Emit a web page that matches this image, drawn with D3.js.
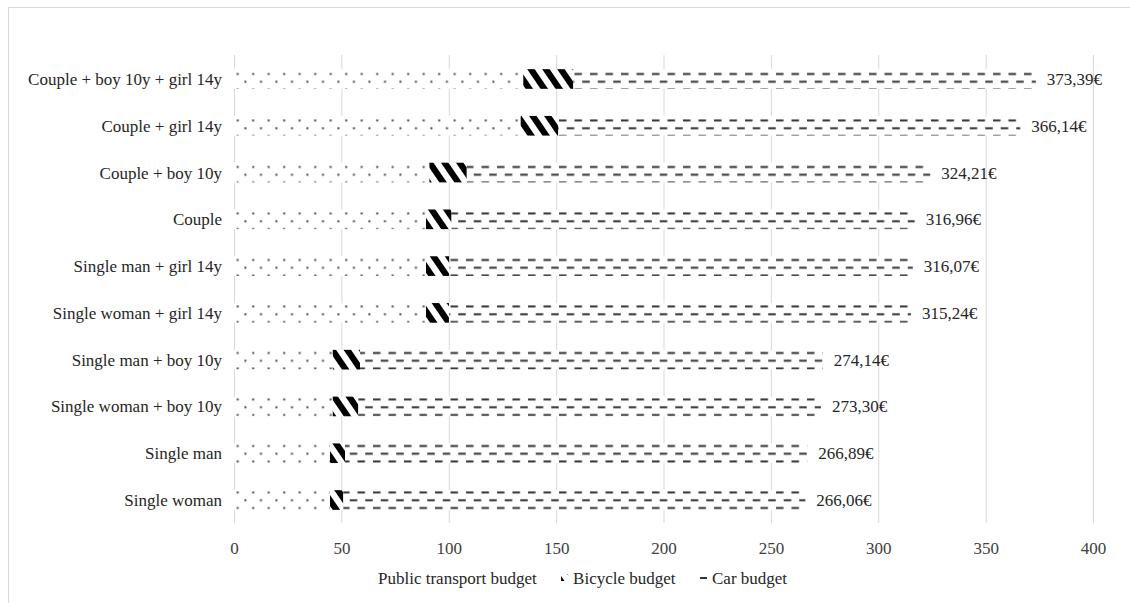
<!DOCTYPE html>
<html>
<head>
<meta charset="utf-8">
<script src="https://cdn.jsdelivr.net/npm/d3@7/dist/d3.min.js"></script>
<style>
  html, body { margin: 0; padding: 0; background: #fff; }
  svg text { font-family: "Liberation Serif", "Times New Roman", serif; }
</style>
</head>
<body>
<svg id="chart" width="1130" height="603"></svg>
<script>
// Household types, listed from top to bottom
const categories = [
  "Couple + boy 10y + girl 14y",
  "Couple + girl 14y",
  "Couple + boy 10y",
  "Couple",
  "Single man + girl 14y",
  "Single woman + girl 14y",
  "Single man + boy 10y",
  "Single woman + boy 10y",
  "Single man",
  "Single woman"
];
// Monthly budgets per mode (€)
const publicTransport = [134.70, 133.50, 91.00, 89.40, 89.40, 89.40, 46.00, 46.00, 44.70, 44.70];
const bicycle         = [23.30, 17.50, 17.40, 11.90, 10.90, 10.70, 12.70, 11.90, 7.00, 6.20];
const car             = [215.39, 215.14, 215.81, 215.66, 215.77, 215.14, 215.44, 215.40, 215.19, 215.16];
const seriesNames = ["Public transport budget", "Bicycle budget", "Car budget"];
const xTicks = [0, 50, 100, 150, 200, 250, 300, 350, 400];

const FONT = 17;
const svg = d3.select("#chart");
const defs = svg.append("defs");

// Dotted fill: staggered dots
const pDots = defs.append("pattern").attr("id", "pt-dots")
  .attr("patternUnits", "userSpaceOnUse").attr("width", 15.5).attr("height", 15.5);
pDots.append("rect").attr("width", 15.5).attr("height", 15.5).attr("fill", "#fff");
[[5.2, 12], [12.95, 4.25]].forEach(([x, y]) =>
  pDots.append("rect").attr("x", x - 1).attr("y", y - 1).attr("width", 2).attr("height", 2).attr("fill", "#4a4a4a"));

// Diagonal stripes for bicycles
const sw = 15, sh = 22, sb = 7.5;
const pStripe = defs.append("pattern").attr("id", "bike-stripes")
  .attr("patternUnits", "userSpaceOnUse").attr("width", sw).attr("height", sh);
pStripe.append("rect").attr("width", sw).attr("height", sh).attr("fill", "#fff");
[0, -sw].forEach(o =>
  pStripe.append("polygon")
    .attr("points", `${o},0 ${o + sb},0 ${o + sb + sw},${sh} ${o + sw},${sh}`)
    .attr("fill", "#000"));

// Dashed fill for cars
const pDash = defs.append("pattern").attr("id", "car-dashes")
  .attr("patternUnits", "userSpaceOnUse").attr("width", 15.5).attr("height", 15.5);
pDash.append("rect").attr("width", 15.5).attr("height", 15.5).attr("fill", "#fff");
[[1, 12], [8.75, 4.25], [8.75 - 15.5, 4.25]].forEach(([x, y]) =>
  pDash.append("rect").attr("x", x).attr("y", y - 1).attr("width", 7.5).attr("height", 2).attr("fill", "#333"));

const fills = ["url(#pt-dots)", "url(#bike-stripes)", "url(#car-dashes)"];

// Chart area border
svg.append("rect").attr("x", 8.5).attr("y", 7.5).attr("width", 1130).attr("height", 600)
  .attr("fill", "none").attr("stroke", "#d9d9d9");

const x = d3.scaleLinear().domain([0, 400]).range([234, 1093]);
const y = d3.scaleBand().domain(categories).range([55.6, 523.4]).paddingInner(0.58).paddingOuter(0.29);

// Vertical gridlines
svg.append("g").selectAll("line").data(xTicks).join("line")
  .attr("x1", d => x(d) + 0.5).attr("x2", d => x(d) + 0.5)
  .attr("y1", 55).attr("y2", 523)
  .attr("stroke", "#d9d9d9").attr("stroke-width", 1);

// Stacked bars
const rows = categories.map((c, i) => ({ cat: c, vals: [publicTransport[i], bicycle[i], car[i]] }));
const stack = d3.stack().keys([0, 1, 2]).value((d, k) => d.vals[k]);
const layers = stack(rows);
layers.forEach((layer, k) => {
  svg.append("g").selectAll("rect").data(layer).join("rect")
    .attr("x", d => x(d[0]))
    .attr("width", d => x(d[1]) - x(d[0]))
    .attr("y", d => y(d.data.cat))
    .attr("height", y.bandwidth())
    .attr("fill", fills[k]);
});

// Total labels
const fmt = v => d3.format(".2f")(v).replace(".", ",") + "€";
svg.append("g").selectAll("text").data(rows).join("text")
  .attr("x", d => x(d3.sum(d.vals)) + 11)
  .attr("y", d => y(d.cat) + y.bandwidth() / 2)
  .attr("dy", "0.35em")
  .attr("font-size", FONT).attr("fill", "#262626")
  .text(d => fmt(d3.sum(d.vals)));

// Category axis labels
svg.append("g").selectAll("text").data(categories).join("text")
  .attr("x", 222).attr("y", d => y(d) + y.bandwidth() / 2)
  .attr("dy", "0.35em").attr("text-anchor", "end")
  .attr("font-size", FONT).attr("fill", "#262626")
  .text(d => d);

// Value axis
const xAxis = d3.axisBottom(x).tickValues(xTicks).tickSize(0).tickPadding(0).tickFormat(d3.format("d"));
const gx = svg.append("g").attr("transform", "translate(0,542)").call(xAxis);
gx.select(".domain").remove();
gx.selectAll("text").attr("font-size", FONT).attr("fill", "#404040")
  .attr("font-family", "Liberation Serif, Times New Roman, serif");

// Legend: swatch + label per series, evenly spaced between fixed ends
const legend = svg.append("g").attr("transform", "translate(0,578)");
const sws = 7, swGap = 5;
const labels = seriesNames.map(n => legend.append("text").attr("y", 0).attr("dy", "0.35em")
  .attr("font-size", FONT).attr("fill", "#262626").text(n));
const widths = labels.map(t => t.node().getComputedTextLength());
const startX = 366, carSwatchX = 700;
const gap = (carSwatchX - startX - 2 * (sws + swGap) - widths[0] - widths[1]) / 2;
let cx = startX;
seriesNames.forEach((n, k) => {
  if (k === 2) {
    // single dash sample for the car series
    legend.append("rect").attr("x", cx).attr("y", -1).attr("width", sws).attr("height", 2).attr("fill", "#333");
  } else {
    legend.append("rect").attr("x", cx).attr("y", -4).attr("width", sws).attr("height", sws).attr("fill", fills[k]);
  }
  labels[k].attr("x", cx + sws + swGap);
  cx += sws + swGap + widths[k] + gap;
});
</script>
</body>
</html>
